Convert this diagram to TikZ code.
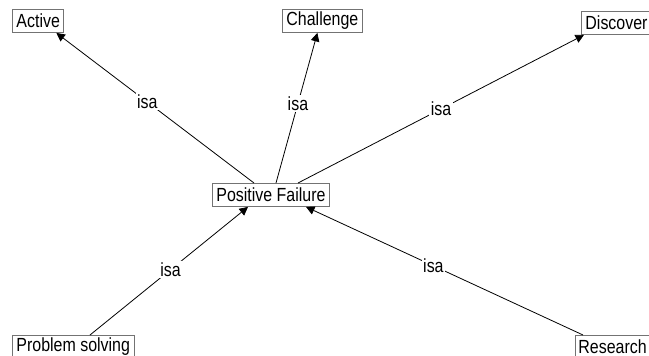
\documentclass[tikz,border=0pt]{standalone}
\usepackage{fontspec}
\setmainfont[FakeStretch=0.84]{Liberation Sans}
\usetikzlibrary{arrows.meta}
\begin{document}
\begin{tikzpicture}[x=1pt,y=-1pt,
  concept/.style={draw=black!55, line width=0.9pt, fill=white, inner xsep=4pt,
    inner ysep=0pt, minimum height=23pt, font=\fontsize{19}{21}\selectfont,
    anchor=north west},
  rel/.style={draw=black, line width=0.8pt,
    -{Triangle[length=8.5pt,width=8.5pt]}},
  lbl/.style={fill=white, inner sep=1.5pt, font=\fontsize{19}{21}\selectfont}]
\useasboundingbox (0,0) rectangle (649,356);

% concepts
\node[concept]  (act) at (12,9)   {Active};
\node[concept]  (cha) at (282,9)  {Challenge};
\node[concept]  (dis) at (581,11) {Discover};
\node[concept]  (pf)  at (212,183) {Positive Failure};
\node[concept]  (ps)  at (12,335) {Problem solving};
\node[concept, inner xsep=3pt]  (res) at (575,335) {Research};

% isa relations
\draw[rel] ([xshift=-17pt]pf.north) -- node[lbl, pos=0.54] {isa} ([xshift=-8pt]act.south east);
\draw[rel] ([xshift=5pt]pf.north)   -- node[lbl, pos=0.53] {isa} ([xshift=-5pt]cha.south);
\draw[rel] ([xshift=27pt]pf.north)  -- node[lbl, pos=0.5]  {isa} ([xshift=3pt]dis.south west);
\draw[rel] ([xshift=78pt]ps.north west) -- node[lbl, pos=0.51] {isa} ([xshift=-23pt]pf.south);
\draw[rel] ([xshift=8pt]res.north west) -- node[lbl, pos=0.54] {isa} ([xshift=35pt]pf.south);
\end{tikzpicture}
\end{document}
